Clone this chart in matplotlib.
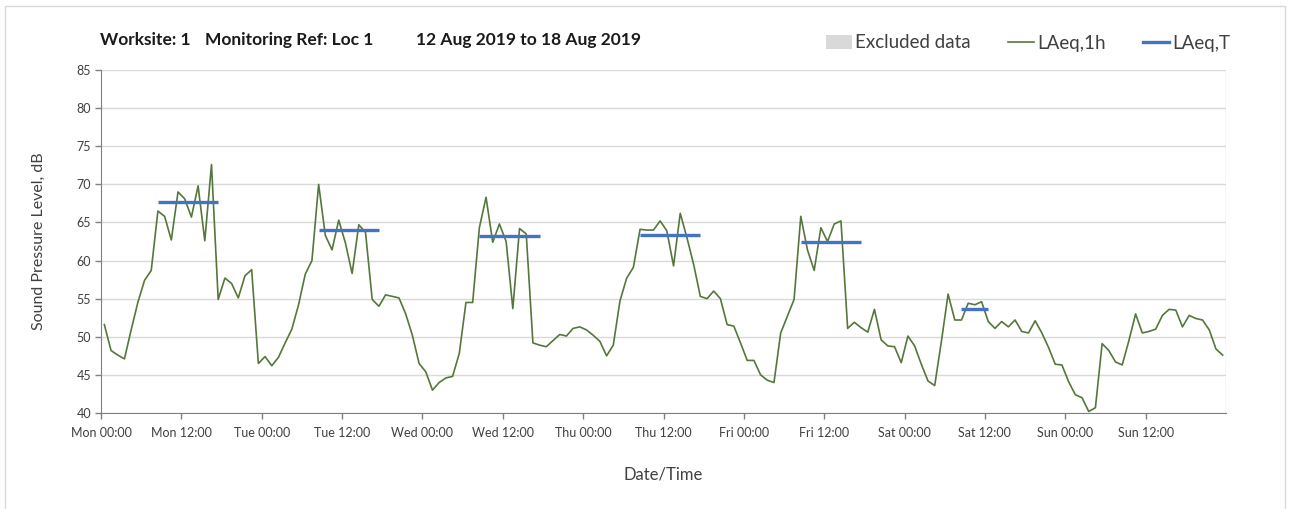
import matplotlib
matplotlib.use("Agg")
import matplotlib.pyplot as plt
from matplotlib.patches import Patch, Rectangle
from matplotlib.lines import Line2D
import numpy as np

plt.rcParams["font.family"] = ["Lato", "DejaVu Sans"]

# hourly LAeq,1h values, one list per day (00:00 .. 23:00)
mon = [51.6, 48.2, 47.6, 47.1, 50.9, 54.5, 57.4, 58.7, 66.5, 65.8, 62.7, 69.0,
       68.1, 65.7, 69.8, 62.6, 72.6, 54.9, 57.7, 57.0, 55.1, 58.0, 58.8, 46.5]
tue = [47.4, 46.2, 47.3, 49.2, 51.0, 54.2, 58.2, 60.0, 70.0, 63.3, 61.4, 65.3,
       62.3, 58.3, 64.7, 63.7, 54.9, 54.0, 55.5, 55.3, 55.1, 53.0, 50.2, 46.5]
wed = [45.4, 43.0, 44.0, 44.6, 44.8, 47.8, 54.5, 54.5, 64.3, 68.3, 62.4, 64.8,
       62.5, 53.7, 64.2, 63.5, 49.2, 48.9, 48.7, 49.5, 50.3, 50.1, 51.1, 51.3]
thu = [50.9, 50.2, 49.4, 47.5, 48.9, 54.7, 57.7, 59.1, 64.1, 64.0, 64.0, 65.2,
       63.9, 59.3, 66.2, 63.0, 59.5, 55.3, 55.0, 56.0, 55.0, 51.6, 51.4, 49.2]
fri = [46.9, 46.9, 45.0, 44.3, 44.0, 50.5, 52.7, 54.9, 65.8, 61.4, 58.7, 64.3,
       62.5, 64.8, 65.2, 51.1, 51.9, 51.2, 50.6, 53.6, 49.6, 48.8, 48.7, 46.6]
sat = [50.1, 48.8, 46.4, 44.2, 43.6, 49.4, 55.6, 52.2, 52.2, 54.4, 54.2, 54.6,
       52.0, 51.1, 52.0, 51.3, 52.2, 50.7, 50.5, 52.1, 50.5, 48.6, 46.4, 46.3]
sun = [44.1, 42.4, 42.0, 40.2, 40.7, 49.1, 48.2, 46.7, 46.3, 49.5, 53.0, 50.5,
       50.7, 51.0, 52.8, 53.6, 53.5, 51.3, 52.8, 52.4, 52.2, 50.9, 48.4, 47.6]

days = ["Mon", "Tue", "Wed", "Thu", "Fri", "Sat", "Sun"]

# LAeq,T per day: (day index, start hour, end hour, level)
laeq_t_day = [0, 1, 2, 3, 4, 5]
laeq_t_start = [8, 8, 8, 8, 8, 8]
laeq_t_end = [17, 17, 17, 17, 17, 12]
laeq_t_level = [67.7, 64.0, 63.2, 63.3, 62.4, 53.7]

excluded = []  # (start hour, end hour) - none this week

green = "#55773b"
blue = "#4472c4"
grey_txt = "#404040"

laeq_1h = np.array(mon + tue + wed + thu + fri + sat + sun)
hours = np.arange(len(laeq_1h)) + 0.5

fig = plt.figure(figsize=(12.9, 5.09), dpi=100)
ax = fig.add_axes([101 / 1290, 96 / 509, 1125 / 1290, 343 / 509])

# outer chart border
fig.patches.append(Rectangle((5 / 1290, -0.02), 1280 / 1290, 1.02 - 6 / 509,
                             transform=fig.transFigure, fill=False,
                             edgecolor="#d9d9d9", linewidth=1))

for s, e in excluded:
    ax.axvspan(s, e, color="#d9d9d9", zorder=0)

ax.plot(hours, laeq_1h, color=green, linewidth=1.2, zorder=3)
for d, s, e, lv in zip(laeq_t_day, laeq_t_start, laeq_t_end, laeq_t_level):
    ax.plot([d * 24 + s + 0.5, d * 24 + e + 0.5], [lv, lv], color=blue,
            linewidth=2.4, solid_capstyle="butt", zorder=4)

ax.set_xlim(0, 168)
ax.set_ylim(40, 85)
ax.set_yticks(np.arange(40, 86, 5))
ax.set_xticks(np.arange(0, 168, 12))
ax.set_xticklabels([f"{days[i // 2]} {'00:00' if i % 2 == 0 else '12:00'}"
                    for i in range(14)])
ax.set_xticks(np.arange(0, 169, 24), minor=True)
ax.grid(True, which="minor", axis="x", color="#d9d9d9", linewidth=1)
ax.grid(True, which="major", axis="y", color="#d9d9d9", linewidth=1)
ax.set_axisbelow(True)
ax.tick_params(axis="x", which="minor", length=0)
ax.tick_params(axis="both", which="major", direction="out", length=4,
               width=1, color="#808080", labelsize=9, labelcolor=grey_txt)
ax.tick_params(axis="x", pad=6)
ax.tick_params(axis="y", pad=3)

for side in ["top", "right"]:
    ax.spines[side].set_visible(False)
for side in ["left", "bottom"]:
    ax.spines[side].set_color("#808080")

ax.set_ylabel("Sound Pressure Level, dB", fontsize=11.5, color=grey_txt,
              labelpad=22)
ax.set_xlabel("Date/Time", fontsize=12, color=grey_txt, labelpad=20)

y_title = 1 - 40 / 509
fig.text(100 / 1290, y_title, "Worksite: 1", fontsize=12.5, fontweight="bold",
         va="center", color="#1a1a1a")
fig.text(205 / 1290, y_title, "Monitoring Ref: Loc 1", fontsize=12.5,
         fontweight="bold", va="center", color="#1a1a1a")
fig.text(416 / 1290, y_title, "12 Aug 2019 to 18 Aug 2019", fontsize=12.5,
         fontweight="bold", va="center", color="#1a1a1a")

handles = [Patch(facecolor="#d9d9d9", edgecolor="none"),
           Line2D([], [], color=green, linewidth=1.2),
           Line2D([], [], color=blue, linewidth=2.4)]
fig.legend(handles, ["Excluded data", "LAeq,1h", "LAeq,T"], ncol=3,
           loc="center right", bbox_to_anchor=(1247 / 1290, 1 - 43 / 509),
           frameon=False, fontsize=13.5, handlelength=1.4, handletextpad=0.15,
           columnspacing=2.0, labelcolor=grey_txt)

fig.savefig("out.png", dpi=100)
